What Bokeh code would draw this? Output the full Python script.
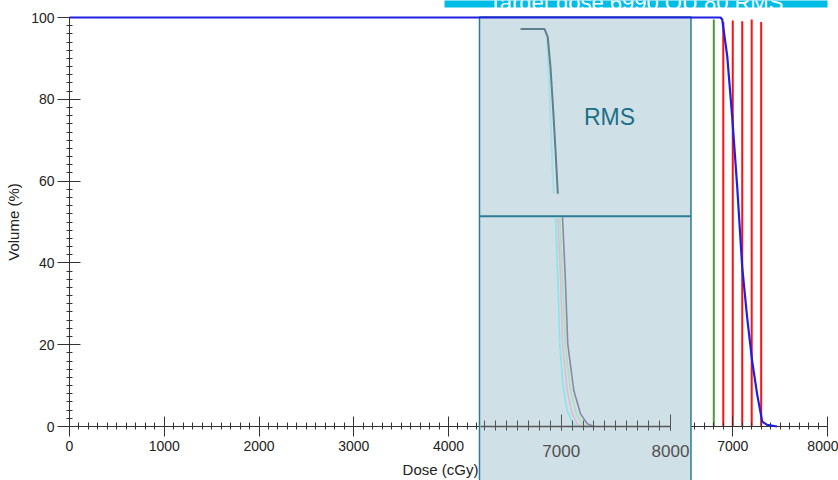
from bokeh.plotting import figure
from bokeh.models import LinearAxis, Range1d, SingleIntervalTicker, FixedTicker
from bokeh.core.properties import value
from bokeh.embed import file_html
from bokeh.resources import INLINE

# ---------------- data ----------------
dvh_dose = [0, 6871, 6889, 6942, 6994, 7047, 7100, 7152, 7205, 7258, 7311, 7363, 7469]
dvh_volume = [100, 100, 99.5, 90.5, 75.7, 58.6, 38.9, 26.6, 16.0, 7.8, 1.2, 0.4, 0]

green_doses = [6800]
green_tops = [99.5]
red_doses = [6900, 7000, 7100, 7200, 7300]
red_tops = [98.9, 99.3, 99.1, 99.5, 98.9]

# inset (zoomed picture) curves, inset dose scale
inset_top_dose = [6628, 6847, 6877, 6902, 6927, 6948, 6969]
inset_top_vol = [97.2, 97.2, 95.2, 87.8, 77.3, 67.5, 56.9]
inset_top2_dose = [6871, 6888, 6907, 6920, 6932]
inset_top2_vol = [95.2, 84.4, 72.4, 62.6, 56.9]

inset_vol = [51.2, 36.5, 20.2, 9.6, 3.9, 1.05, 0]
inset_vol_b = [51.2, 36.5, 20.2, 8.8, 3.1, 0.66, 0]
inset_cyan = [6948, 6969, 6987, 7018, 7055, 7101, 7146]
inset_pink = [6969, 6994, 7012, 7055, 7101, 7146, 7192]
inset_green = [6987, 7012, 7037, 7085, 7140, 7192, 7238]
inset_purple = [7012, 7037, 7060, 7115, 7177, 7238, 7298]

title_text = "Target dose 6990 QU 80 RMS"
inset_label = "RMS"
x_title = "Dose (cGy)"
y_title = "Volume (%)"

# ---------------- layout constants ----------------
FONT = "Liberation Sans"
INSET_L, INSET_R, INSET_B, INSET_T, INSET_MID = 4327, 6559, -20, 100.1, 51.4
BANNER_L, BANNER_R, BANNER_B, BANNER_T = 3958, 8000, 102.44, 110

p = figure(width=838, height=480, output_backend="svg", toolbar_location=None,
           x_range=Range1d(-728.2, 8116), y_range=Range1d(-13.2, 104.16),
           x_axis_type=None, y_axis_type=None, min_border=0)
p.outline_line_color = None
p.background_fill_color = "white"
p.border_fill_color = "white"
p.extra_x_ranges = {"inset": Range1d(1870.1, 9537)}

# y axis
yax = LinearAxis(ticker=SingleIntervalTicker(interval=20, num_minor_ticks=10),
                 bounds=(0, 100), fixed_location=0, axis_label=y_title)
# main x axis
xax = LinearAxis(ticker=SingleIntervalTicker(interval=1000, num_minor_ticks=10),
                 bounds=(0, 8000), fixed_location=0)
for ax in (yax, xax):
    ax.axis_line_color = "#333333"
    ax.major_tick_line_color = "#333333"
    ax.minor_tick_line_color = "#333333"
    ax.major_label_text_font = FONT
    ax.major_label_text_font_size = "14px"
    ax.major_label_text_color = "#222222"
    ax.axis_label_text_font = FONT
    ax.axis_label_text_font_size = "15px"
    ax.axis_label_text_font_style = "normal"
    ax.axis_label_text_color = "#222222"
yax.major_tick_in, yax.major_tick_out = 11, 12
yax.minor_tick_in, yax.minor_tick_out = 3, 3
yax.major_label_standoff = 3
yax.axis_label_standoff = 6
xax.major_tick_in, xax.major_tick_out = 10, 10
xax.minor_tick_in, xax.minor_tick_out = 4, 3
xax.major_label_standoff = 4
p.add_layout(yax, "left")
p.add_layout(xax, "below")

# x axis title (carried by a tick-less axis so that it sits left of the inset)
xlab = LinearAxis(ticker=FixedTicker(ticks=[]), bounds=(0, 7830), fixed_location=0,
                  axis_label=x_title)
xlab.axis_line_color = None
xlab.major_tick_line_color = None
xlab.minor_tick_line_color = None
xlab.axis_label_text_font = FONT
xlab.axis_label_text_font_size = "15px"
xlab.axis_label_text_font_style = "normal"
xlab.axis_label_text_color = "#222222"
xlab.axis_label_standoff = 34
p.add_layout(xlab, "below")

# banner at top
p.quad(left=[BANNER_L], right=[BANNER_R], bottom=[BANNER_B], top=[BANNER_T],
       fill_color="#00bde6", line_color=None)
p.text(x=[(BANNER_L + BANNER_R) / 2], y=[103.6], text=[title_text],
       text_font=value(FONT), text_font_size="22px", text_color="white",
       text_align="center", text_baseline="alphabetic")

# reference dose lines
p.segment(x0=green_doses, y0=[0] * len(green_doses), x1=green_doses, y1=green_tops,
          line_color="#4a9a3a", line_width=2)
p.segment(x0=red_doses, y0=[0] * len(red_doses), x1=red_doses, y1=red_tops,
          line_color="#ff1010", line_width=2)

# inset picture
p.quad(left=[INSET_L], right=[INSET_R], bottom=[INSET_B], top=[INSET_T],
       fill_color="#d0e0e7", line_color="#2b7d96", line_width=1.5, level="annotation")
p.segment(x0=[INSET_L], y0=[INSET_MID], x1=[INSET_R], y1=[INSET_MID],
          line_color="#2b7d96", line_width=2, level="annotation")

p.line(inset_top2_dose, inset_top2_vol, x_range_name="inset", line_color="#a8e0e4",
       line_width=2, level="overlay")
p.line(inset_top_dose, inset_top_vol, x_range_name="inset", line_color="#5f7f8c",
       line_width=2, level="overlay")
for xs, ys, col in ((inset_cyan, inset_vol, "#88e6e6"), (inset_pink, inset_vol_b, "#e2b8d8"),
                    (inset_green, inset_vol_b, "#a8e2b8"), (inset_purple, inset_vol_b, "#8a86a8")):
    p.line(xs, ys, x_range_name="inset", line_color=col, line_width=1.6, level="overlay")

p.text(x=[5699], y=[75.6], text=[inset_label], text_font=value(FONT),
       text_font_size="23px", text_color="#1b6f87", text_align="center",
       text_baseline="middle", level="overlay")

iax = LinearAxis(x_range_name="inset", fixed_location=0,
                 ticker=SingleIntervalTicker(interval=1000, num_minor_ticks=10),
                 bounds=(6260, 8000), level="overlay")
iax.axis_line_color = "#555555"
iax.axis_line_width = 1.5
iax.major_tick_line_color = "#555555"
iax.minor_tick_line_color = "#555555"
iax.major_tick_in, iax.major_tick_out = 12, 4
iax.minor_tick_in, iax.minor_tick_out = 6, 4
iax.major_label_text_font = FONT
iax.major_label_text_font_size = "17px"
iax.major_label_text_color = "#505050"
iax.major_label_standoff = 14
p.add_layout(iax, "below")

# DVH curve
p.line(dvh_dose, dvh_volume, line_color="#1f1fe0", line_width=2.2, level="overlay")

open("out.html", "w").write(file_html(p, INLINE))
